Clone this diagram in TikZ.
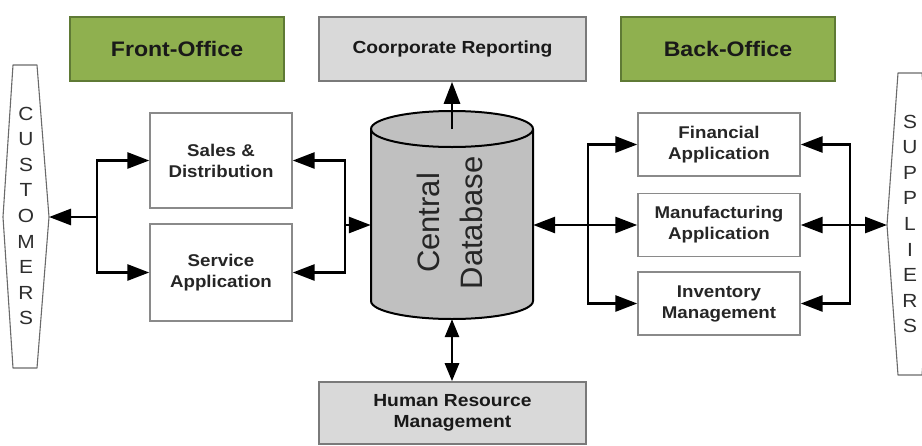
\documentclass[tikz,border=0pt]{standalone}
\usepackage{fontspec}
\setmainfont{Liberation Sans}
\newfontfamily\labelfont[FakeStretch=1.1]{Liberation Sans}
\usetikzlibrary{arrows.meta}
\definecolor{officec}{HTML}{8FB04F}
\definecolor{officeline}{HTML}{5F7A35}
\definecolor{sharedc}{HTML}{D9D9D9}
\definecolor{sharedline}{HTML}{7A7A7A}
\definecolor{appline}{HTML}{8A8A8A}
\definecolor{dbc}{HTML}{C0C0C0}
\definecolor{partyline}{HTML}{6A6A6A}
\tikzset{
  office/.style={draw=officeline, line width=1.6pt, fill=officec, inner sep=0pt, text=black!90,
    font=\labelfont\bfseries\fontsize{21}{25}\selectfont},
  shared/.style={draw=sharedline, line width=1.6pt, fill=sharedc, inner sep=0pt, align=center, text=black!90,
    font=\labelfont\bfseries\fontsize{17.5}{21}\selectfont},
  app/.style={draw=appline, line width=1.4pt, fill=white, inner sep=0pt, align=center, text=black!85,
    font=\labelfont\bfseries\fontsize{17}{21}\selectfont},
  party/.style={draw=partyline, line width=1.1pt, line join=round},
  letters/.style={align=center, text=black!82, font=\labelfont\fontsize{19}{25.6}\selectfont},
  dbbody/.style={fill=dbc, draw=black, line width=2pt},
  dbtext/.style={align=center, text=black!85, font=\fontsize{31}{43}\selectfont},
  tip/.tip={Triangle[length=22pt,width=16pt]},
  smalltip/.tip={Triangle[length=18pt,width=14pt]},
  link/.style={line width=2.8pt, -tip},
  twoway/.style={line width=2.8pt, smalltip-smalltip},
}
\begin{document}
\begin{tikzpicture}[x=1pt,y=1pt]
\useasboundingbox (0,0) rectangle (922,-445);

% heading boxes
\node[office, minimum width=214pt, minimum height=64pt] (front) at (177,-49) {Front-Office};
\node[shared, minimum width=267pt, minimum height=64pt] (report) at (452.5,-49) {Coorporate Reporting};
\node[office, minimum width=214pt, minimum height=64pt] (back) at (728,-49) {Back-Office};

% front office applications
\node[app, minimum width=142pt, minimum height=95pt] (sales) at (221,-160.5) {Sales \&\\Distribution};
\node[app, minimum width=142pt, minimum height=97pt] (service) at (221,-272.5) {Service\\Application};

% back office applications
\node[app, minimum width=162pt, minimum height=63pt] (fin) at (719,-144.5) {Financial\\Application};
\node[app, minimum width=162pt, minimum height=63pt] (manu) at (719,-225) {Manufacturing\\Application};
\node[app, minimum width=162pt, minimum height=63pt] (inv) at (719,-303.5) {Inventory\\Management};

\node[shared, minimum width=267pt, minimum height=62pt] (hr) at (452.5,-413) {Human Resource\\Management};

% customers and suppliers
\draw[party] (13,-65) -- (37,-65) -- (49,-217) -- (37,-368) -- (13,-368) -- (3,-217) -- cycle;
\coordinate (custtip) at (49,-217);
\node[letters] (cust) at (26,-216) {C\\U\\S\\T\\O\\M\\E\\R\\S};
\draw[party] (898,-73) -- (922,-73) -- (934,-225) -- (922,-375) -- (898,-375) -- (887,-225) -- cycle;
\coordinate (supptip) at (887,-225);
\node[letters] (supp) at (910,-224) {S\\U\\P\\P\\L\\I\\E\\R\\S};

% central database
\filldraw[dbbody] (371,-129) -- (371,-301) arc (180:360:81 and 18) -- (533,-129) arc (0:180:81 and 18) -- cycle;
\draw[dbbody, fill=none] (371,-129) arc (180:360:81 and 18);
\node[inner sep=0pt, minimum width=162pt, minimum height=208pt] (db) at (452,-215) {};
\coordinate (dbtop) at (452,-129);
\node[dbtext, rotate=90] (dblabel) at (450,-223) {Central\\Database};

% connectors
\coordinate (fl) at (97,-217);
\coordinate (fr) at (345,-225);
\coordinate (br) at (588,-225);
\coordinate (bs) at (850,-225);

\draw[link] (fl) -- (custtip);
\draw[link] (fl) |- (sales.west);
\draw[link] (fl) |- (service.west);

\draw[link] (fr) |- (sales.east);
\draw[link] (fr) |- (service.east);
\draw[link] (fr) -- (fr -| db.west);

\draw[link] (br) -- (br -| db.east);
\draw[link] (br) |- (fin.west);
\draw[link] (br) -- (manu.west);
\draw[link] (br) |- (inv.west);

\draw[link] (bs) |- (fin.east);
\draw[link] (bs) -- (manu.east);
\draw[link] (bs) |- (inv.east);
\draw[link] (bs) -- (supptip);

\draw[link] (dbtop) -- (dbtop |- report.south);
\draw[twoway] (db.south) -- (db.south |- hr.north);
\end{tikzpicture}
\end{document}
